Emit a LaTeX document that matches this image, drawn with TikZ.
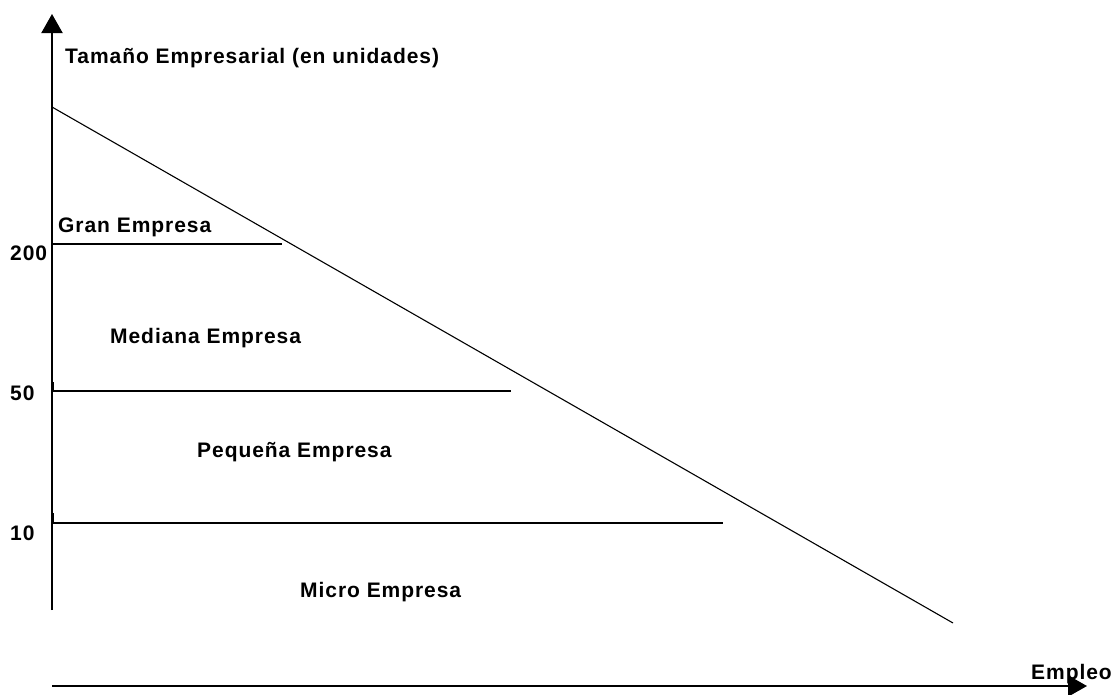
\documentclass[tikz,border=0pt]{standalone}
\usepackage{fontspec}
\setmainfont{Liberation Sans}
\newfontfamily\lblfont{Liberation Sans}[LetterSpace=4.5]
\usetikzlibrary{arrows.meta}
\begin{document}
\begin{tikzpicture}[x=1pt,y=-1pt,
  lbl/.style={anchor=base west,inner sep=0pt,font=\lblfont\bfseries\fontsize{21}{25}\selectfont},
  axis/.style={line width=2pt,-{Triangle[length=19pt,width=21pt]}},
  level/.style={line width=1.6pt},
  diag/.style={line width=1.1pt}]
\useasboundingbox (0,0) rectangle (1116,694);
% axis coordinates
\coordinate (yb) at (52,610);
\coordinate (yt) at (52,14);
\coordinate (xl) at (52,686);
\coordinate (xr) at (1087,686);
\draw[axis] (yb) -- (yt);
\draw[axis] (xl) -- (xr);
% diagonal
\coordinate (d1) at (52,107);
\coordinate (d2) at (953,623);
\draw[diag] (d1) -- (d2);
% level lines
\coordinate (l200a) at (52,244); \coordinate (l200b) at (282,244);
\coordinate (l50a) at (52,391); \coordinate (l50b) at (511,391);
\coordinate (l10a) at (52,523); \coordinate (l10b) at (723,523);
\draw[level] (l200a) -- (l200b);
\draw[level] (l50a) -- (l50b);
\draw[level] (l10a) -- (l10b);
% small stubs
\coordinate (s50a) at (53.5,382); \coordinate (s50b) at (53.5,391);
\coordinate (s10a) at (53.5,513); \coordinate (s10b) at (53.5,523);
\draw[line width=1pt] (s50a) -- (s50b);
\draw[line width=1pt] (s10a) -- (s10b);
% labels
\node[lbl] (title) at (65,63) {Tamaño Empresarial (en unidades)};
\node[lbl] (gran) at (58,232) {Gran Empresa};
\node[lbl] (med) at (110,343) {Mediana Empresa};
\node[lbl] (peq) at (197,457) {Pequeña Empresa};
\node[lbl] (mic) at (300,597) {Micro Empresa};
\node[lbl] (emp) at (1031,679) {Empleo};
\node[lbl] (n200) at (10,260) {200};
\node[lbl] (n50) at (10,400) {50};
\node[lbl] (n10) at (10,540) {10};
\end{tikzpicture}
\end{document}
